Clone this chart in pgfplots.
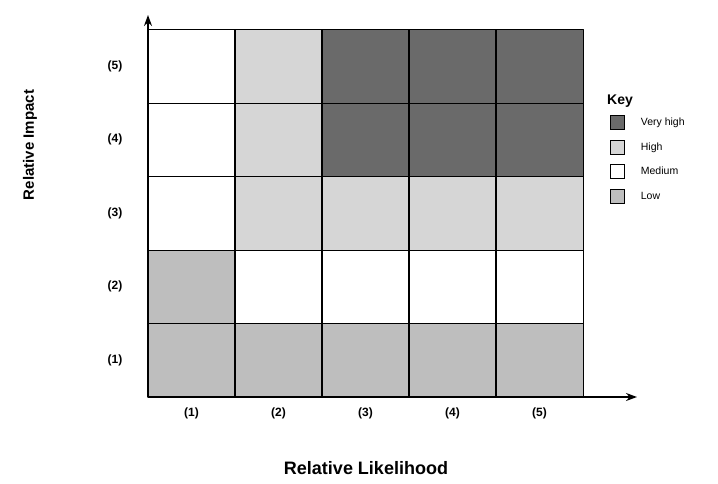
\documentclass[border=0pt]{standalone}
\usepackage{pgfplots}
\pgfplotsset{compat=1.18}
\usepackage{fontspec}
\setmainfont{Liberation Sans}
\usetikzlibrary{arrows.meta}
\definecolor{lowc}{RGB}{190,190,190}
\definecolor{medc}{RGB}{255,255,255}
\definecolor{highc}{RGB}{214,214,214}
\definecolor{vhighc}{RGB}{106,106,106}
\begin{document}
\begin{tikzpicture}
\useasboundingbox (-148pt,-86pt) rectangle (570pt,397pt);
\begin{axis}[
  scale only axis,
  width=489pt, height=382pt,
  xmin=0.5, xmax=6.12, ymin=0.5, ymax=5.7,
  axis lines=left,
  axis line style={line width=1.8pt, -{Stealth[length=11pt,width=8pt]}},
  xtick={1,2,3,4,5}, ytick={1,2,3,4,5},
  xticklabels={(1),(2),(3),(4),(5)},
  yticklabels={(1),(2),(3),(4),(5)},
  major tick length=0pt,
  /pgf/number format/assume math mode=true,
  ticklabel style={font=\bfseries\fontsize{12}{14}\selectfont},
  xticklabel style={anchor=center, yshift=-16pt},
  yticklabel style={anchor=center, xshift=-33pt},
  colormap={risk}{rgb255=(190,190,190) rgb255=(255,255,255) rgb255=(214,214,214) rgb255=(106,106,106)},
  colormap access=direct,
  clip=false,
  legend style={draw=none, fill=none, at={(rel axis cs:0.945,0.738)}, anchor=north west,
    inner sep=0pt, row sep=10pt, column sep=16pt,
    nodes={inner sep=0pt, font=\fontsize{10.5}{12}\selectfont}},
  legend cell align=left,
  legend image code/.code={\draw[#1] (0pt,-7pt) rectangle (14pt,7pt);},
]
\addplot[patch, patch type=rectangle, shader=faceted, faceted color=black, line width=1.1pt,
  point meta=explicit, forget plot] table[meta=c] {
x y c
0.5 0.5 0
1.5 0.5 0
1.5 1.5 0
0.5 1.5 0
1.5 0.5 0
2.5 0.5 0
2.5 1.5 0
1.5 1.5 0
2.5 0.5 0
3.5 0.5 0
3.5 1.5 0
2.5 1.5 0
3.5 0.5 0
4.5 0.5 0
4.5 1.5 0
3.5 1.5 0
4.5 0.5 0
5.5 0.5 0
5.5 1.5 0
4.5 1.5 0
0.5 1.5 0
1.5 1.5 0
1.5 2.5 0
0.5 2.5 0
1.5 1.5 1
2.5 1.5 1
2.5 2.5 1
1.5 2.5 1
2.5 1.5 1
3.5 1.5 1
3.5 2.5 1
2.5 2.5 1
3.5 1.5 1
4.5 1.5 1
4.5 2.5 1
3.5 2.5 1
4.5 1.5 1
5.5 1.5 1
5.5 2.5 1
4.5 2.5 1
0.5 2.5 1
1.5 2.5 1
1.5 3.5 1
0.5 3.5 1
1.5 2.5 2
2.5 2.5 2
2.5 3.5 2
1.5 3.5 2
2.5 2.5 2
3.5 2.5 2
3.5 3.5 2
2.5 3.5 2
3.5 2.5 2
4.5 2.5 2
4.5 3.5 2
3.5 3.5 2
4.5 2.5 2
5.5 2.5 2
5.5 3.5 2
4.5 3.5 2
0.5 3.5 1
1.5 3.5 1
1.5 4.5 1
0.5 4.5 1
1.5 3.5 2
2.5 3.5 2
2.5 4.5 2
1.5 4.5 2
2.5 3.5 3
3.5 3.5 3
3.5 4.5 3
2.5 4.5 3
3.5 3.5 3
4.5 3.5 3
4.5 4.5 3
3.5 4.5 3
4.5 3.5 3
5.5 3.5 3
5.5 4.5 3
4.5 4.5 3
0.5 4.5 1
1.5 4.5 1
1.5 5.5 1
0.5 5.5 1
1.5 4.5 2
2.5 4.5 2
2.5 5.5 2
1.5 5.5 2
2.5 4.5 3
3.5 4.5 3
3.5 5.5 3
2.5 5.5 3
3.5 4.5 3
4.5 4.5 3
4.5 5.5 3
3.5 5.5 3
4.5 4.5 3
5.5 4.5 3
5.5 5.5 3
4.5 5.5 3
};
\addlegendimage{fill=vhighc, draw=black, line width=0.6pt}
\addlegendentry{Very high}
\addlegendimage{fill=highc, draw=black, line width=0.6pt}
\addlegendentry{High}
\addlegendimage{fill=medc, draw=black, line width=0.6pt}
\addlegendentry{Medium}
\addlegendimage{fill=lowc, draw=black, line width=0.6pt}
\addlegendentry{Low}
\end{axis}
\node[font=\bfseries\fontsize{14}{16}\selectfont] at (472pt,296pt) {Key};
\node[font=\bfseries\fontsize{18}{20}\selectfont] at (218pt,-71pt) {Relative Likelihood};
\node[font=\bfseries\fontsize{15}{18}\selectfont, rotate=90] at (-118pt,252pt) {Relative Impact};
\end{tikzpicture}
\end{document}
